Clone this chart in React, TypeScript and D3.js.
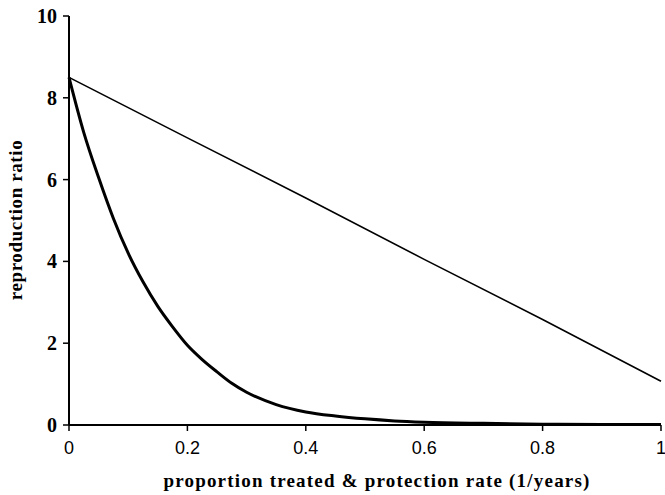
import React from "react";
import * as d3 from "d3";

const lineX = [0, 0.2, 0.4, 0.6, 0.8, 1];
const lineY = [8.5, 7.02, 5.55, 4.05, 2.58, 1.07];

const curveX = [0, 0.025, 0.05, 0.075, 0.1, 0.125, 0.15, 0.175, 0.2, 0.225, 0.25, 0.275, 0.3, 0.35, 0.4, 0.45, 0.5, 0.55, 0.6, 0.7, 0.8, 0.9, 1];
const curveY = [8.5, 7.15, 6.05, 5.05, 4.2, 3.5, 2.9, 2.4, 1.95, 1.6, 1.3, 1.02, 0.8, 0.5, 0.32, 0.22, 0.15, 0.1, 0.07, 0.04, 0.02, 0.01, 0.01];

const xTicks = [0, 0.2, 0.4, 0.6, 0.8, 1];
const yTicks = [0, 2, 4, 6, 8, 10];

const W = 665;
const H = 495;

const App = () => {
  const x = d3.scaleLinear().domain([0, 1]).range([69, 661]);
  const y = d3.scaleLinear().domain([0, 10]).range([425, 16]);

  const line = d3
    .line<number>()
    .x((d, i) => x(lineX[i]))
    .y((d) => y(d));
  const curve = d3
    .line<number>()
    .x((d, i) => x(curveX[i]))
    .y((d) => y(d))
    .curve(d3.curveMonotoneX);

  return (
    <svg
      width={W}
      height={H}
      style={{ position: "absolute", left: 0, top: 0, background: "#fff" }}
    >
      <path d={line(lineY) || ""} fill="none" stroke="#000" strokeWidth={1.6} />
      <path d={curve(curveY) || ""} fill="none" stroke="#000" strokeWidth={3} />

      {/* axes */}
      <line x1={x(0)} x2={x(0)} y1={y(10)} y2={y(0)} stroke="#000" strokeWidth={2} />
      <line x1={x(0)} x2={x(1)} y1={y(0)} y2={y(0)} stroke="#000" strokeWidth={2} />

      {yTicks.map((t) => (
        <g key={"y" + t}>
          <line x1={x(0) - 6} x2={x(0)} y1={y(t)} y2={y(t)} stroke="#000" strokeWidth={1.5} />
          <text
            x={57}
            y={y(t) + 7}
            textAnchor="end"
            fontFamily="Liberation Serif"
            fontWeight="bold"
            fontSize={20}
          >
            {t}
          </text>
        </g>
      ))}

      {xTicks.map((t) => (
        <g key={"x" + t}>
          <line x1={x(t)} x2={x(t)} y1={y(0)} y2={y(0) + 6} stroke="#000" strokeWidth={1.5} />
          <text
            x={x(t)}
            y={454}
            textAnchor="middle"
            fontFamily="Liberation Sans"
            fontSize={18}
          >
            {t}
          </text>
        </g>
      ))}

      <text
        x={377}
        y={487}
        textAnchor="middle"
        fontFamily="Liberation Serif"
        fontWeight="bold"
        fontSize={19}
        letterSpacing={1.2}
      >
        proportion treated &amp; protection rate (1/years)
      </text>
      <text
        transform={`translate(22, 220) rotate(-90)`}
        textAnchor="middle"
        fontFamily="Liberation Serif"
        fontWeight="bold"
        fontSize={19}
        letterSpacing={0.6}
      >
        reproduction ratio
      </text>
    </svg>
  );
};

export default App;
